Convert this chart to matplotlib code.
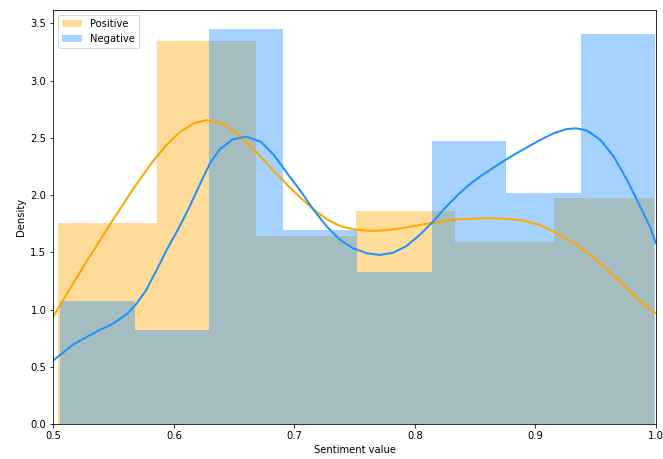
import numpy as np
import matplotlib
matplotlib.use("Agg")
import matplotlib.pyplot as plt

# histogram bins (density)
pos_edges = [0.5036, 0.5860, 0.6684, 0.7508, 0.8332, 0.9156, 0.9980]
pos_heights = [1.759, 3.344, 1.646, 1.861, 1.590, 1.975]

neg_edges = [0.5055, 0.5674, 0.6293, 0.6908, 0.7523, 0.8145, 0.8757, 0.9378, 0.9990]
neg_heights = [1.075, 0.821, 3.449, 1.695, 1.331, 2.470, 2.016, 3.411]

# kde curves
pos_kde_x = [0.500, 0.508, 0.516, 0.527, 0.539, 0.548, 0.558, 0.566, 0.574, 0.583,
             0.594, 0.605, 0.616, 0.627, 0.638, 0.649, 0.660, 0.672, 0.683, 0.694,
             0.705, 0.716, 0.727, 0.738, 0.749, 0.760, 0.771, 0.782, 0.793, 0.804,
             0.815, 0.826, 0.837, 0.854, 0.871, 0.887, 0.904, 0.920, 0.937, 0.954,
             0.970, 0.987, 1.000]
pos_kde_y = [0.940, 1.080, 1.220, 1.410, 1.610, 1.760, 1.920, 2.050, 2.170, 2.300,
             2.440, 2.550, 2.625, 2.656, 2.633, 2.569, 2.467, 2.336, 2.210, 2.090,
             1.978, 1.875, 1.788, 1.730, 1.701, 1.689, 1.689, 1.701, 1.718, 1.739,
             1.759, 1.777, 1.789, 1.797, 1.797, 1.783, 1.739, 1.652, 1.549, 1.404,
             1.244, 1.069, 0.967]

neg_kde_x = [0.500, 0.516, 0.533, 0.550, 0.561, 0.569, 0.577, 0.585, 0.594, 0.605,
             0.613, 0.622, 0.630, 0.638, 0.649, 0.660, 0.672, 0.683, 0.694, 0.705,
             0.716, 0.727, 0.738, 0.749, 0.760, 0.771, 0.782, 0.793, 0.804, 0.815,
             0.826, 0.837, 0.848, 0.860, 0.871, 0.882, 0.893, 0.904, 0.915, 0.926,
             0.934, 0.943, 0.954, 0.965, 0.976, 0.987, 0.995, 1.000]
neg_kde_y = [0.555, 0.690, 0.792, 0.880, 0.960, 1.050, 1.170, 1.330, 1.520, 1.730,
             1.899, 2.103, 2.278, 2.400, 2.488, 2.511, 2.467, 2.351, 2.191, 2.038,
             1.870, 1.724, 1.608, 1.535, 1.492, 1.477, 1.497, 1.555, 1.652, 1.768,
             1.899, 2.016, 2.117, 2.205, 2.281, 2.351, 2.418, 2.482, 2.540, 2.578,
             2.584, 2.563, 2.482, 2.336, 2.132, 1.899, 1.724, 1.579]

fig = plt.figure(figsize=(663 / 72, 459 / 72), dpi=72)
ax = fig.add_axes([0.0804, 0.0763, 0.909, 0.9017])

ax.bar(pos_edges[:-1], pos_heights, width=np.diff(pos_edges), align='edge',
       color='orange', alpha=0.4, linewidth=0, label='Positive')
ax.plot(pos_kde_x, pos_kde_y, color='orange', lw=2)

ax.bar(neg_edges[:-1], neg_heights, width=np.diff(neg_edges), align='edge',
       color='dodgerblue', alpha=0.4, linewidth=0, label='Negative')
ax.plot(neg_kde_x, neg_kde_y, color='dodgerblue', lw=2)

ax.set_xlim(0.5, 1.0)
ax.set_ylim(0, 3.617)
ax.set_xlabel("Sentiment value")
ax.set_ylabel("Density")
ax.legend(loc='upper left')

plt.savefig("out.png", dpi=72)
